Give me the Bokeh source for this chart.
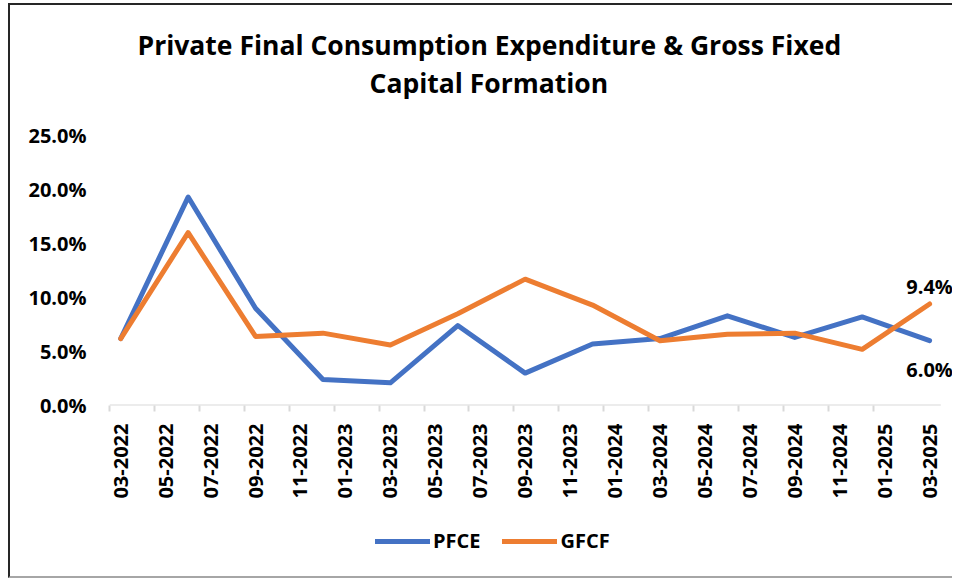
import math
from bokeh.plotting import figure
from bokeh.layouts import column
from bokeh.models import (Range1d, LinearAxis, FixedTicker, PrintfTickFormatter,
                          Legend, LegendItem, Label, Title)
from bokeh.embed import file_html
from bokeh.resources import INLINE

# ---- data ----
quarters = ["03-2022", "06-2022", "09-2022", "12-2022", "03-2023", "06-2023", "09-2023",
            "12-2023", "03-2024", "06-2024", "09-2024", "12-2024", "03-2025"]
pfce = [6.2, 19.3, 9.0, 2.4, 2.1, 7.4, 3.0, 5.7, 6.2, 8.3, 6.3, 8.2, 6.0]
gfcf = [6.2, 16.0, 6.4, 6.7, 5.6, 8.5, 11.7, 9.3, 6.0, 6.6, 6.7, 5.2, 9.4]
tick_labels = ["03-2022", "05-2022", "07-2022", "09-2022", "11-2022", "01-2023", "03-2023",
               "05-2023", "07-2023", "09-2023", "11-2023", "01-2024", "03-2024", "05-2024",
               "07-2024", "09-2024", "11-2024", "01-2025", "03-2025"]
y_ticks = [0, 5, 10, 15, 20, 25]
series_names = ["PFCE", "GFCF"]
title_lines = ["Private Final Consumption Expenditure &  Gross Fixed", "Capital Formation"]


def month_index(s):
    m, y = s.split("-")
    return (int(y) - 2022) * 12 + int(m) - 3


x = [month_index(q) for q in quarters]
tick_pos = [month_index(t) for t in tick_labels]
axis_lo, axis_hi = -0.5, tick_pos[-1] + 0.5

FONT = "Open Sans"
BLUE = "#4472C4"
ORANGE = "#ED7D31"
W = 942

p = figure(width=W, height=518, output_backend="svg", toolbar_location=None,
           x_range=Range1d(axis_lo, 37.02), y_range=Range1d(0, 28.24),
           x_axis_type=None, y_axis_type=None,
           min_border_left=99, min_border_right=0, min_border_top=95,
           min_border_bottom=118)
p.outline_line_color = None

# title (two lines, stacked above)
p.add_layout(Title(text=title_lines[1], align="left", offset=260, text_font=FONT,
                   text_font_size="26.5px", text_font_style="bold", text_color="black",
                   standoff=0), "above")
p.add_layout(Title(text=title_lines[0], align="left", offset=28, text_font=FONT,
                   text_font_size="26.5px", text_font_style="bold", text_color="black",
                   standoff=0), "above")

# y axis
yax = LinearAxis(ticker=FixedTicker(ticks=y_ticks),
                 formatter=PrintfTickFormatter(format="%.1f%%"),
                 axis_line_color=None, major_tick_line_color=None, minor_tick_line_color=None,
                 major_tick_in=0, major_tick_out=0, major_label_standoff=23,
                 major_label_text_font=FONT, major_label_text_font_size="20px",
                 major_label_text_font_style="bold", major_label_text_color="black")
p.add_layout(yax, "left")

# x axis: tick marks between categories
xticks_ax = LinearAxis(ticker=FixedTicker(ticks=[t - 0.5 for t in tick_pos[:-1]]),
                       axis_line_color=None,
                       major_tick_line_color="#d9d9d9", major_tick_line_width=2,
                       major_tick_in=0, major_tick_out=6, minor_tick_line_color=None,
                       major_label_text_alpha=0, major_label_text_font_size="1px",
                       major_label_standoff=0)
p.add_layout(xticks_ax, "below")

xlab_ax = LinearAxis(ticker=FixedTicker(ticks=tick_pos),
                     major_label_overrides={t: lab for t, lab in zip(tick_pos, tick_labels)},
                     axis_line_color=None, major_tick_line_color=None, minor_tick_line_color=None,
                     major_tick_in=0, major_tick_out=0, major_label_standoff=12,
                     major_label_orientation=math.pi / 2,
                     major_label_text_font=FONT, major_label_text_font_size="20px",
                     major_label_text_font_style="bold", major_label_text_color="black")
p.add_layout(xlab_ax, "below")

# category-axis baseline
p.segment(x0=[axis_lo], x1=[axis_hi], y0=[0], y1=[0], line_color="#d9d9d9", line_width=2)

r1 = p.line(x, pfce, line_color=BLUE, line_width=5, line_join="round", line_cap="round")
r2 = p.line(x, gfcf, line_color=ORANGE, line_width=5, line_join="round", line_cap="round")

# end labels
p.add_layout(Label(x=x[-1], y=gfcf[-1], text=f"{gfcf[-1]:.1f}%", text_align="center",
                   text_baseline="alphabetic", y_offset=17, text_font=FONT,
                   text_font_size="20px", text_font_style="bold", text_color="black"))
p.add_layout(Label(x=x[-1], y=pfce[-1], text=f"{pfce[-1]:.1f}%", text_align="center",
                   text_baseline="alphabetic", y_offset=-29, text_font=FONT,
                   text_font_size="20px", text_font_style="bold", text_color="black"))

# legend strip below the chart
lf = figure(width=W, height=53, output_backend="svg", toolbar_location=None,
            x_range=Range1d(0, 1), y_range=Range1d(0, 1), x_axis_type=None, y_axis_type=None,
            min_border=0)
lf.outline_line_color = None
lf.grid.visible = False
l1 = lf.line([2, 3], [2, 3], line_color=BLUE, line_width=5, line_cap="round")
l2 = lf.line([2, 3], [2, 3], line_color=ORANGE, line_width=5, line_cap="round")
legend = Legend(items=[LegendItem(label=series_names[0], renderers=[l1]),
                       LegendItem(label=series_names[1], renderers=[l2])],
                orientation="horizontal", location=(266, 22),
                glyph_width=55, glyph_height=26, label_height=26, label_standoff=3,
                spacing=22, padding=0, margin=0, border_line_color=None,
                background_fill_alpha=0,
                label_text_font=FONT, label_text_font_size="20px",
                label_text_font_style="bold", label_text_color="black")
lf.add_layout(legend, "center")

layout = column(p, lf, spacing=0,
                styles={"margin-left": "8px", "margin-top": "3px",
                        "border-left": "2px solid #262626", "border-top": "2px solid #262626",
                        "border-bottom": "2px solid #a6a6a6"})
open("out.html", "w").write(file_html(layout, INLINE))
